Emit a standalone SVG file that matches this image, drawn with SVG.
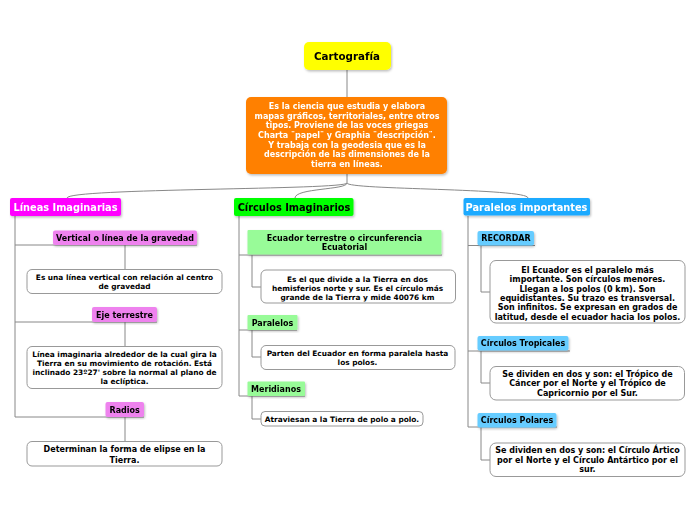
<svg xmlns="http://www.w3.org/2000/svg" width="696" height="520" viewBox="0 0 696 520">
<defs>
<filter id="sh" x="-10%" y="-10%" width="120%" height="130%">
<feDropShadow dx="1" dy="1.5" stdDeviation="1" flood-color="#000" flood-opacity="0.25"/>
</filter>
<style>
text{font-family:"DejaVu Sans",Verdana,sans-serif;font-weight:bold;text-anchor:middle;fill:#000}
.w{fill:#fff}
.h{font-size:9.8px}
.s{font-size:8px}
.d{font-size:7.4px}
.box{fill:#fff;stroke:#999;stroke-width:1}
.con{fill:none;stroke:#888;stroke-width:1}
.n{filter:url(#sh)}
</style>
</defs>
<rect width="696" height="520" fill="#fff"/>
<g id="connectors" class="con">
<path d="M347,70V97"/>
<path d="M347,174V183"/>
<path d="M347,183C347,190 67,188 67,198"/>
<path d="M347,183C347,190 295,188 295,198"/>
<path d="M347,183C347,190 528,188 528,198"/>
<path d="M15,216V417"/>
<path d="M15,245H197"/>
<path d="M15,322H157"/>
<path d="M15,417H144"/>
<path d="M125,245V269"/>
<path d="M125,322V346"/>
<path d="M125,417V441"/>
<path d="M239,216V396"/>
<path d="M239,255H442"/>
<path d="M239,330H297"/>
<path d="M239,396H305"/>
<path d="M252,255V287H261"/>
<path d="M252,330V357H261"/>
<path d="M252,396V419H261"/>
<path d="M468,216V427"/>
<path d="M468,245.5H535"/>
<path d="M468,351H570"/>
<path d="M468,427H557"/>
<path d="M481,245.5V292H490"/>
<path d="M481,351V383H490"/>
<path d="M481,427V460H490"/>
</g>
<g id="cartografia" class="n">
<rect x="304" y="42" width="87" height="28" rx="5" fill="#ffff00"/>
<text x="347" y="59.5" style="font-size:10.3px">Cartografía</text>
</g>
<g id="definicion" class="n">
<rect x="246" y="97" width="201" height="77" rx="5" fill="#ff8000"/>
<g class="s">
<text class="w" x="347" y="109">Es la ciencia que estudia y elabora</text>
<text class="w" x="347" y="118.7">mapas gráficos, territoriales, entre otros</text>
<text class="w" x="347" y="128.4">tipos. Proviene de las voces griegas</text>
<text class="w" x="347" y="138">Charta ¨papel¨ y Graphia ¨descripción¨.</text>
<text class="w" x="347" y="147.7">Y trabaja con la geodesia que es la</text>
<text class="w" x="347" y="157.3">descripción de las dimensiones de la</text>
<text class="w" x="347" y="167">tierra en líneas.</text>
</g>
</g>
<g id="lineas" class="n">
<rect x="10" y="198" width="111" height="18" rx="2" fill="#ff00ff"/>
<text class="h w" x="65.5" y="211">Líneas Imaginarias</text>
</g>
<g id="vertical" class="n">
<rect x="53" y="230.5" width="144" height="14.5" rx="2" fill="#ee82ee"/>
<text class="s" x="125" y="241">Vertical o línea de la gravedad</text>
</g>
<g id="vertical-desc">
<rect class="box" x="27" y="269.5" width="195" height="24" rx="5"/>
<text class="d" x="124.5" y="280">Es una línea vertical con relación al centro</text>
<text class="d" x="124.5" y="289.2">de gravedad</text>
</g>
<g id="eje" class="n">
<rect x="92" y="307" width="65" height="15" rx="2" fill="#ee82ee"/>
<text class="s" x="124.5" y="318.3">Eje terrestre</text>
</g>
<g id="eje-desc">
<rect class="box" x="27" y="346.5" width="195" height="42" rx="5"/>
<text class="d" x="124.5" y="356.8">Línea imaginaria alrededor de la cual gira la</text>
<text class="d" x="124.5" y="366">Tierra en su movimiento de rotación. Está</text>
<text class="d" x="124.5" y="375">inclinado 23º27' sobre la normal al plano de</text>
<text class="d" x="124.5" y="384">la eclíptica.</text>
</g>
<g id="radios" class="n">
<rect x="105.5" y="402" width="38.5" height="15" rx="2" fill="#ee82ee"/>
<text class="s" x="124.7" y="413">Radios</text>
</g>
<g id="radios-desc">
<rect class="box" x="27" y="441.5" width="195" height="24.5" rx="5"/>
<text class="s" x="124.5" y="452.3">Determinan la forma de elipse en la</text>
<text class="s" x="124.5" y="462.5">Tierra.</text>
</g>
<g id="circulos" class="n">
<rect x="234" y="198" width="119.5" height="18" rx="2" fill="#00ff00"/>
<text class="h" x="294" y="211">Círculos Imaginarios</text>
</g>
<g id="ecuador" class="n">
<rect x="247.5" y="230" width="194" height="24.5" rx="1" fill="#98fb98"/>
<text class="s" x="344.5" y="240.8">Ecuador terrestre o circunferencia</text>
<text class="s" x="344.5" y="250">Ecuatorial</text>
</g>
<g id="ecuador-desc">
<rect class="box" x="261" y="270" width="194.5" height="33" rx="5"/>
<text class="d" x="357.5" y="281.8">Es el que divide a la Tierra en dos</text>
<text class="d" x="357.5" y="290.6">hemisferios norte y sur. Es el círculo más</text>
<text class="d" x="357.5" y="299.5">grande de la Tierra y mide 40076 km</text>
</g>
<g id="paralelos" class="n">
<rect x="247.5" y="315" width="50" height="15" rx="1" fill="#98fb98"/>
<text class="s" x="272.5" y="326">Paralelos</text>
</g>
<g id="paralelos-desc">
<rect class="box" x="261" y="345.5" width="194" height="24" rx="5"/>
<text class="d" x="357.5" y="355.8">Parten del Ecuador en forma paralela hasta</text>
<text class="d" x="357.5" y="365">los polos.</text>
</g>
<g id="meridianos" class="n">
<rect x="247.5" y="381.5" width="57.5" height="14.5" rx="1" fill="#98fb98"/>
<text class="s" x="276" y="392.3">Meridianos</text>
</g>
<g id="meridianos-desc">
<rect class="box" x="261" y="411.5" width="162" height="14.5" rx="4"/>
<text class="d" x="342" y="421.5">Atraviesan a la Tierra de polo a polo.</text>
</g>
<g id="importantes" class="n">
<rect x="463.5" y="198" width="126.5" height="17.5" rx="2" fill="#1eaaff"/>
<text class="h w" x="526.5" y="211">Paralelos importantes</text>
</g>
<g id="recordar" class="n">
<rect x="477.5" y="231" width="56.5" height="14.5" rx="2" fill="#66ccff"/>
<text class="s" x="506" y="241">RECORDAR</text>
</g>
<g id="recordar-desc">
<rect class="box" x="490" y="260.5" width="195" height="62.5" rx="6"/>
<text class="s" x="587.5" y="273">El Ecuador es el paralelo más</text>
<text class="s" x="587.5" y="282.3">importante. Son círculos menores.</text>
<text class="s" x="587.5" y="291.6">Llegan a los polos (0 km). Son</text>
<text class="s" x="587.5" y="300.9">equidistantes. Su trazo es transversal.</text>
<text class="s" x="587.5" y="310.2">Son infinitos. Se expresan en grados de</text>
<text class="s" x="587.5" y="319.5">latitud, desde el ecuador hacia los polos.</text>
</g>
<g id="tropicales" class="n">
<rect x="477.5" y="336" width="91" height="14.5" rx="2" fill="#66ccff"/>
<text class="s" x="523" y="346.3">Círculos Tropicales</text>
</g>
<g id="tropicales-desc">
<rect class="box" x="490" y="366.5" width="194.5" height="33.5" rx="6"/>
<text class="s" x="587.5" y="376.5">Se dividen en dos y son: el Trópico de</text>
<text class="s" x="587.5" y="386">Cáncer por el Norte y el Trópico de</text>
<text class="s" x="587.5" y="395.5">Capricornio por el Sur.</text>
</g>
<g id="polares" class="n">
<rect x="477.5" y="413" width="79" height="14.5" rx="2" fill="#66ccff"/>
<text class="s" x="517" y="423">Círculos Polares</text>
</g>
<g id="polares-desc">
<rect class="box" x="490" y="443" width="195" height="33.5" rx="6"/>
<text class="s" x="587.5" y="453">Se dividen en dos y son: el Círculo Ártico</text>
<text class="s" x="587.5" y="462.5">por el Norte y el Círculo Antártico por el</text>
<text class="s" x="587.5" y="472">sur.</text>
</g>
</svg>
